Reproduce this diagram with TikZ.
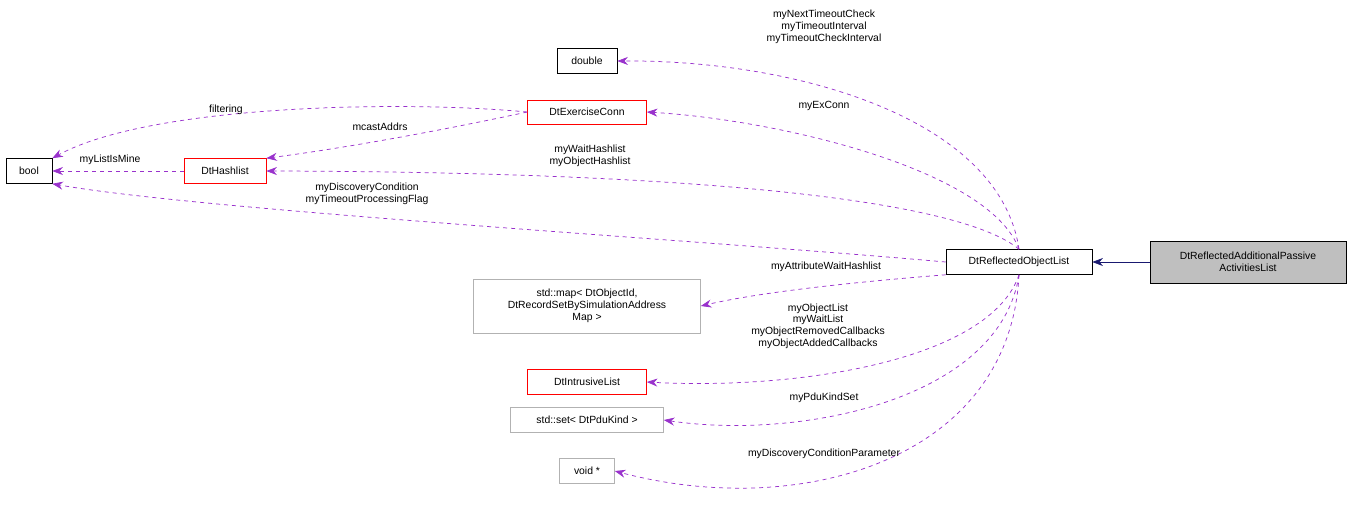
\documentclass[tikz,border=0pt]{standalone}
\usepackage{fontspec}
\setmainfont{Liberation Sans}
\usetikzlibrary{arrows.meta}
\definecolor{purp}{RGB}{153,50,204}
\definecolor{navy}{RGB}{25,25,112}
\begin{document}
\begin{tikzpicture}[x=0.75pt,y=-0.75pt,
 box/.style={draw=black,fill=white,inner sep=2pt,font=\fontsize{7.8}{9}\selectfont,align=center,anchor=center},
 red/.style={box,draw=red},
 gray/.style={box,draw=gray!60},
 dep/.style={draw=purp,line width=0.55pt,dashed,-{Stealth[length=8pt,width=6pt,fill=purp]}},
 lab/.style={font=\fontsize{7.8}{8.8}\selectfont,align=center,inner sep=0pt}]
\useasboundingbox (0,0) rectangle (1352,507);
\node[box,minimum width=46*0.75pt,minimum height=25*0.75pt] (bool) at (29,171) {bool};
\node[box,minimum width=60*0.75pt,minimum height=25*0.75pt] (double) at (587,61) {double};
\node[red,minimum width=119*0.75pt,minimum height=24*0.75pt] (ex) at (587,112) {DtExerciseConn};
\node[red,minimum width=82*0.75pt,minimum height=25*0.75pt] (hash) at (225,171) {DtHashlist};
\node[gray,minimum width=227*0.75pt,minimum height=54*0.75pt] (map) at (587,306) {std::map\textless{} DtObjectId,\\DtRecordSetBySimulationAddress\\Map \textgreater{}};
\node[red,minimum width=119*0.75pt,minimum height=25*0.75pt] (intr) at (587,382) {DtIntrusiveList};
\node[gray,minimum width=153*0.75pt,minimum height=25*0.75pt] (set) at (587,420) {std::set\textless{} DtPduKind \textgreater{}};
\node[gray,minimum width=55*0.75pt,minimum height=25*0.75pt] (void) at (587,471) {void *};
\node[box,minimum width=146*0.75pt,minimum height=25*0.75pt] (rol) at (1019,262) {DtReflectedObjectList};
\node[box,fill={rgb,255:red,191;green,191;blue,191},minimum width=196*0.75pt,minimum height=42*0.75pt] (der) at (1248,262) {DtReflectedAdditionalPassive\\ActivitiesList};
\draw[draw=navy,line width=0.55pt,-{Stealth[length=8pt,width=6pt,fill=navy]}] (der) -- (rol);
\draw[dep] (rol.north) .. controls (1000,120) and (800,60) .. (double.east);
\node[lab] at (824,27) {myNextTimeoutCheck\\myTimeoutInterval\\myTimeoutCheckInterval};
\draw[dep] (rol.north) .. controls (990,170) and (780,120) .. (ex.east);
\node[lab] at (824,106) {myExConn};
\draw[dep] (rol.north) .. controls (960,200) and (700,172) .. (hash.east);
\node[lab] at (590,156) {myWaitHashlist\\myObjectHashlist};
\draw[dep] (rol.west) .. controls (700,240) and (200,210) .. (bool.south east);
\node[lab] at (367,194) {myDiscoveryCondition\\myTimeoutProcessingFlag};
\draw[dep] (rol.south west) .. controls (880,280) and (770,290) .. (map.east);
\node[lab] at (826,267) {myAttributeWaitHashlist};
\draw[dep] (rol.south) .. controls (990,360) and (800,390) .. (intr.east);
\node[lab] at (818,326) {myObjectList\\myWaitList\\myObjectRemovedCallbacks\\myObjectAddedCallbacks};
\draw[dep] (rol.south) .. controls (1000,400) and (800,440) .. (set.east);
\node[lab] at (824,398) {myPduKindSet};
\draw[dep] (rol.south) .. controls (1010,460) and (800,520) .. (void.east);
\node[lab] at (824,454) {myDiscoveryConditionParameter};
\draw[dep] (ex.west) .. controls (400,100) and (150,105) .. (bool.north east);
\node[lab] at (226,110) {filtering};
\draw[dep] (ex.west) .. controls (420,135) and (330,150) .. (hash.north east);
\node[lab] at (380,127) {mcastAddrs};
\draw[dep] (hash.west) -- (bool.east);
\node[lab] at (110,160) {myListIsMine};
\end{tikzpicture}
\end{document}
